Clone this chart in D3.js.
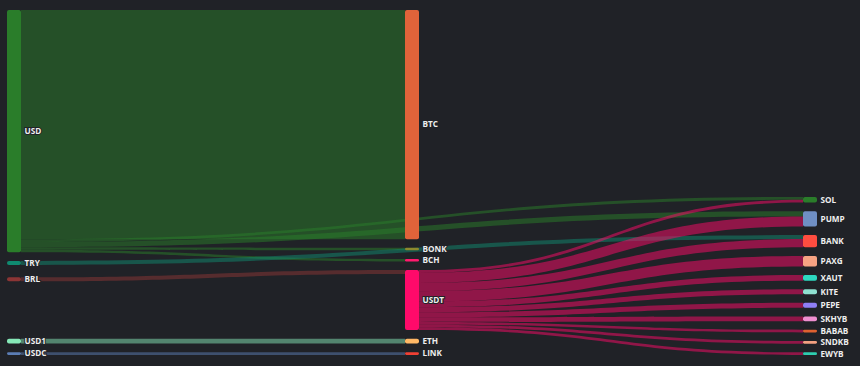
<!DOCTYPE html>
<html>
<head>
<meta charset="utf-8">
<script src="https://cdn.jsdelivr.net/npm/d3@7"></script>
<style>
html, body { margin: 0; padding: 0; background: #202227; }
svg { display: block; }
.label { font-family: "Open Sans", sans-serif; font-size: 8.2px; font-weight: 700; fill: #eeeeee;
         stroke: #202227; stroke-width: 2px; paint-order: stroke; }
</style>
</head>
<body>
<div id="chart"></div>
<script>
// nodes, in the order they appear top to bottom
var nodeNames = ["USD", "TRY", "BRL", "USD1", "USDC",
                 "BTC", "BONK", "BCH", "USDT", "ETH", "LINK",
                 "SOL", "PUMP", "BANK", "PAXG", "XAUT", "KITE", "PEPE", "SKHYB", "BABAB", "SNDKB", "EWYB"];
var nodeColors = ["#2a7d2a", "#0f8a70", "#8b3535", "#86e8b8", "#5b7db5",
                  "#e0633a", "#8c8a2e", "#ff1a6e", "#ff0a6a", "#ffb866", "#ef4034",
                  "#2a7d2a", "#6f8fc4", "#ff4d40", "#f7a383", "#2dd8c0", "#8fe0d0", "#8f7ef5", "#ef8fd0", "#df6130", "#f2a080", "#2ecdb0"];

// flows
var linkFrom  = ["USD", "USD", "USD", "USD", "USD", "TRY", "BRL", "USD1", "USDC",
                 "USDT", "USDT", "USDT", "USDT", "USDT", "USDT", "USDT", "USDT", "USDT", "USDT", "USDT"];
var linkTo    = ["BTC", "SOL", "PUMP", "BONK", "BCH", "BANK", "USDT", "ETH", "LINK",
                 "SOL", "PUMP", "BANK", "PAXG", "XAUT", "KITE", "PEPE", "SKHYB", "BABAB", "SNDKB", "EWYB"];
var linkValue = [2300, 28, 53, 25, 25, 40, 40, 50, 28,
                 29, 100, 83, 105, 57, 50, 50, 47, 27, 27, 27];

var width = 860, height = 366;
var box = { x0: 7, x1: 817, y0: 10, y1: 355 };
var nodeWidth = 14, nodeGap = 8.6, iterations = 32, curveness = 0.5;
var H = box.y1 - box.y0;

var nodes = nodeNames.map(function(n, i) {
    return { name: n, color: nodeColors[i], inEdges: [], outEdges: [] };
});
var byName = {};
nodes.forEach(function(n) { byName[n.name] = n; });

var links = linkFrom.map(function(f, i) {
    var l = { source: byName[f], target: byName[linkTo[i]], value: linkValue[i] };
    l.source.outEdges.push(l);
    l.target.inEdges.push(l);
    return l;
});

nodes.forEach(function(n) {
    n.value = Math.max(d3.sum(n.inEdges, function(e) { return e.value; }),
                       d3.sum(n.outEdges, function(e) { return e.value; }));
});

// depth, left aligned
nodes.forEach(function(n) { n.depth = 0; });
for (var k = 0; k < nodes.length; k++) {
    links.forEach(function(l) {
        l.target.depth = Math.max(l.target.depth, l.source.depth + 1);
    });
}
var maxDepth = d3.max(nodes, function(n) { return n.depth; });
var x = d3.scaleLinear().domain([0, maxDepth]).range([box.x0, box.x1 - nodeWidth]);

var columns = d3.range(maxDepth + 1).map(function(d) {
    return nodes.filter(function(n) { return n.depth === d; });
});

var ky = d3.min(columns, function(c) {
    return (H - (c.length - 1) * nodeGap) / d3.sum(c, function(n) { return n.value; });
});
var v = d3.scaleLinear().domain([0, 1]).range([0, ky]);

columns.forEach(function(c) {
    c.forEach(function(n, i) { n.y = i; n.dy = v(n.value); });
});
links.forEach(function(l) { l.dy = v(l.value); });

function center(n) { return n.y + n.dy / 2; }

function resolveCollisions() {
    columns.forEach(function(c) {
        c.sort(function(a, b) { return a.y - b.y; });
        var y0 = 0, n, dy;
        for (var i = 0; i < c.length; i++) {
            n = c[i];
            dy = y0 - n.y;
            if (dy > 0) n.y += dy;
            y0 = n.y + n.dy + nodeGap;
        }
        dy = y0 - nodeGap - H;
        if (dy > 0) {
            n.y -= dy;
            y0 = n.y;
            for (var j = c.length - 2; j >= 0; j--) {
                n = c[j];
                dy = n.y + n.dy + nodeGap - y0;
                if (dy > 0) n.y -= dy;
                y0 = n.y;
            }
        }
    });
}

function relaxRightToLeft(alpha) {
    columns.slice().reverse().forEach(function(c) {
        c.forEach(function(n) {
            if (n.outEdges.length) {
                var y = d3.sum(n.outEdges, function(e) { return center(e.target) * e.value; }) /
                        d3.sum(n.outEdges, function(e) { return e.value; });
                n.y += (y - center(n)) * alpha;
            }
        });
    });
}

function relaxLeftToRight(alpha) {
    columns.forEach(function(c) {
        c.forEach(function(n) {
            if (n.inEdges.length) {
                var y = d3.sum(n.inEdges, function(e) { return center(e.source) * e.value; }) /
                        d3.sum(n.inEdges, function(e) { return e.value; });
                n.y += (y - center(n)) * alpha;
            }
        });
    });
}

resolveCollisions();
for (var alpha = 1, it = iterations; it > 0; it--) {
    alpha *= 0.99;
    relaxRightToLeft(alpha);
    resolveCollisions();
    relaxLeftToRight(alpha);
    resolveCollisions();
}

// stack link ends on each node
nodes.forEach(function(n) {
    n.outEdges.sort(function(a, b) { return a.target.y - b.target.y; });
    n.inEdges.sort(function(a, b) { return a.source.y - b.source.y; });
    var sy = 0, ty = 0;
    n.outEdges.forEach(function(e) { e.sy = sy; sy += e.dy; });
    n.inEdges.forEach(function(e) { e.ty = ty; ty += e.dy; });
});

var svg = d3.select("#chart").append("svg")
    .attr("width", width)
    .attr("height", height)
    .style("background", "#202227");

var g = svg.append("g").attr("transform", "translate(0," + box.y0 + ")");

function linkPath(l) {
    var x1 = x(l.source.depth) + nodeWidth, x2 = x(l.target.depth);
    var y1 = l.source.y + l.sy, y2 = l.target.y + l.ty;
    var cx1 = x1 * (1 - curveness) + x2 * curveness;
    var cx2 = x1 * curveness + x2 * (1 - curveness);
    var p = d3.path();
    p.moveTo(x1, y1);
    p.bezierCurveTo(cx1, y1, cx2, y2, x2, y2);
    p.lineTo(x2, y2 + l.dy);
    p.bezierCurveTo(cx2, y2 + l.dy, cx1, y1 + l.dy, x1, y1 + l.dy);
    p.closePath();
    return p.toString();
}

g.append("g").selectAll("path")
    .data(links)
    .join("path")
    .attr("d", linkPath)
    .attr("fill", function(l) { return l.source.color; })
    .attr("fill-opacity", 0.5);

var node = g.append("g").selectAll("g")
    .data(nodes)
    .join("g");

node.append("rect")
    .attr("x", function(n) { return x(n.depth); })
    .attr("y", function(n) { return n.y; })
    .attr("width", nodeWidth)
    .attr("height", function(n) { return Math.max(n.dy, 1); })
    .attr("rx", function(n) { return Math.min(2, n.dy / 2); })
    .attr("fill", function(n) { return n.color; });

node.append("text")
    .attr("class", "label")
    .attr("x", function(n) { return x(n.depth) + nodeWidth + 3.5; })
    .attr("y", function(n) { return center(n); })
    .attr("dy", "0.35em")
    .text(function(n) { return n.name; });
</script>
</body>
</html>
